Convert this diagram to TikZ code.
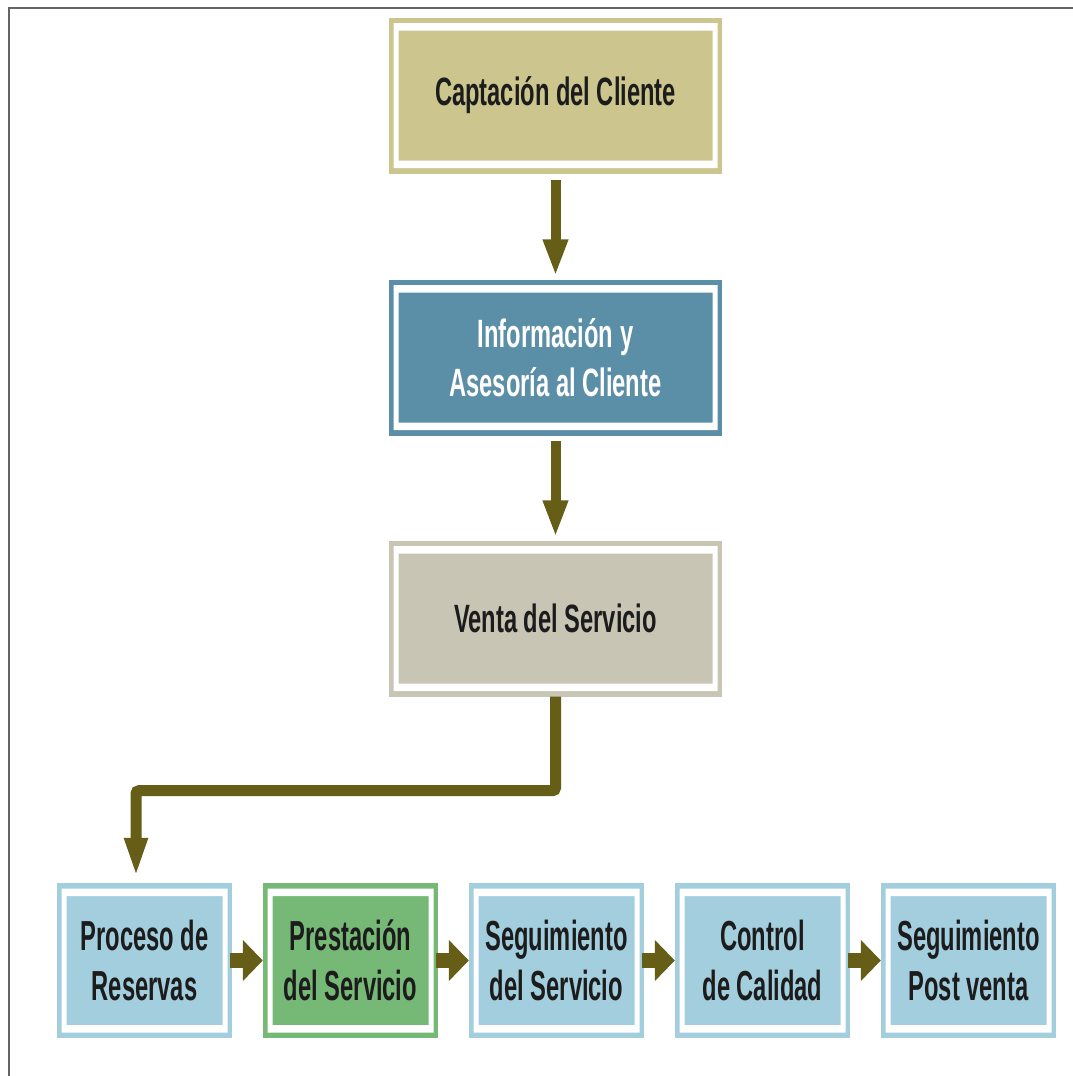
\documentclass[tikz,border=0pt]{standalone}
\usepackage{fontspec}
\newfontfamily\labfont[FakeStretch=0.6]{Liberation Sans}
\newfontfamily\smlabfont[FakeStretch=0.565]{Liberation Sans}
\usetikzlibrary{arrows.meta,calc}
\definecolor{khaki}{RGB}{204,198,142}
\definecolor{steel}{RGB}{91,142,167}
\definecolor{greige}{RGB}{200,197,180}
\definecolor{lblue}{RGB}{163,206,222}
\definecolor{lgreen}{RGB}{118,184,118}
\definecolor{olive}{RGB}{102,93,22}
\definecolor{txt}{RGB}{28,28,28}
\definecolor{frame}{RGB}{100,100,100}
\tikzset{
  flowbox/.style={fill=#1, draw=none, inner sep=0pt, align=center, text=txt,
    path picture={\fill[white,even odd rule]
      ([xshift=4.5pt,yshift=5.5pt]path picture bounding box.south west) rectangle
      ([xshift=-4.5pt,yshift=-5.5pt]path picture bounding box.north east)
      ([xshift=9.5pt,yshift=13pt]path picture bounding box.south west) rectangle
      ([xshift=-9.5pt,yshift=-13pt]path picture bounding box.north east);}},
  bigbox/.style={flowbox=#1, minimum width=333pt, minimum height=156pt,
    font=\labfont\bfseries\fontsize{39.5}{49}\selectfont},
  smallbox/.style={flowbox=#1, minimum width=175pt, minimum height=155pt,
    font=\smlabfont\bfseries\fontsize{42}{50}\selectfont},
  varrow/.style={draw=olive, line width=10pt, -{Triangle[width=23pt,length=37pt]}},
  harrow/.style={draw=olive, line width=15pt, -{Triangle[width=40pt,length=20pt]}},
  elbow/.style={draw=olive, line width=11pt, rounded corners=3pt, -{Triangle[width=21pt,length=40pt]}}
}
\begin{document}
\begin{tikzpicture}[x=1pt,y=-1pt]
\useasboundingbox (0,0) rectangle (1073,1076);
\fill[white] (0,0) rectangle (1073,1076);
\draw[frame, line width=2pt] (1073,8) -- (9,8) -- (9,1076);

\node[bigbox=khaki] (capt) at (555.5,95.5) {Captación del Cliente};
\node[bigbox=steel, text=white] (info) at (555.5,357.5) {Información y\\Asesoría al Cliente};
\node[bigbox=greige] (venta) at (555.5,618.5) {Venta del Servicio};

\node[smallbox=lblue] (proc) at (144.5,960.5) {Proceso de\\Reservas};
\node[smallbox=lgreen] (prest) at (350.5,960.5) {Prestación\\del Servicio};
\node[smallbox=lblue] (segs) at (556.5,960.5) {Seguimiento\\del Servicio};
\node[smallbox=lblue] (ctrl) at (762.5,960.5) {Control\\de Calidad};
\node[smallbox=lblue] (post) at (968.5,960.5) {Seguimiento\\Post venta};

\draw[varrow, shorten <=6pt, shorten >=3pt] (capt.south) -- (info.north);
\draw[varrow, shorten <=5pt, shorten >=3pt] (info.south) -- (venta.north);
\draw[elbow] (venta.south) -- ++(0,94) -| ([xshift=-8.5pt,yshift=5pt]proc.north);

\draw[harrow, shorten <=-2pt] (proc.east) -- (prest.west);
\draw[harrow, shorten <=-2pt] (prest.east) -- (segs.west);
\draw[harrow, shorten <=-2pt] (segs.east) -- (ctrl.west);
\draw[harrow, shorten <=-2pt] (ctrl.east) -- (post.west);
\end{tikzpicture}
\end{document}
